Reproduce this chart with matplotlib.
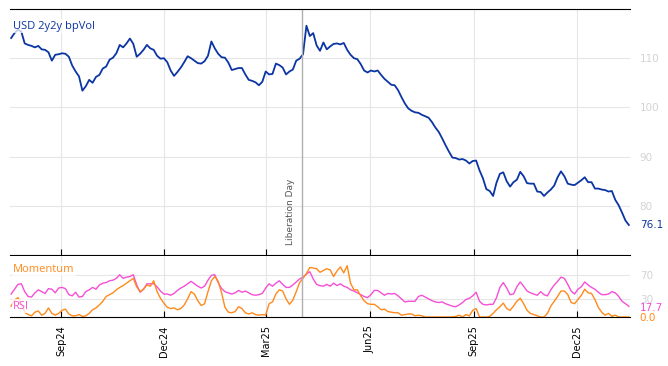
import matplotlib
matplotlib.use("Agg")
import matplotlib.pyplot as plt
import matplotlib.dates as mdates
import pandas as pd

# data: every 3 days from 2024-07-19 to 2026-01-16
start = "2024-07-19"
vol = [114.1, 115.1, 115.8, 115.4, 113.0, 112.7, 112.5, 112.2, 112.5, 111.8,
       111.7, 111.2, 109.5, 110.7, 110.8, 111.0, 110.9, 110.3, 108.5, 107.3,
       106.3, 103.4, 104.3, 105.6, 105.0, 106.2, 106.6, 107.9, 108.3, 109.7,
       110.1, 111.0, 112.7, 112.2, 113.0, 114.0, 112.9, 110.3, 110.9, 111.7,
       112.7, 112.0, 111.7, 110.5, 109.9, 110.0, 109.2, 107.5, 106.4, 107.2,
       108.1, 109.2, 110.4, 110.0, 109.5, 109.0, 108.9, 109.4, 110.5, 113.4,
       112.0, 110.9, 110.2, 110.1, 109.1, 107.6, 107.8, 108.0, 108.0, 106.7,
       105.6, 105.4, 105.1, 104.5, 105.2, 107.3, 106.7, 106.8, 108.9, 108.6,
       108.1, 106.7, 107.3, 107.7, 109.5, 109.9, 110.8, 116.6, 114.5, 115.1,
       112.6, 111.5, 113.2, 111.8, 112.4, 112.9, 113.0, 112.8, 113.1, 111.7,
       110.7, 110.0, 109.8, 108.8, 107.5, 107.1, 107.5, 107.3, 107.5, 106.6,
       105.8, 105.2, 104.6, 104.5, 103.5, 102.1, 100.8, 99.8, 99.3, 99.0,
       98.9, 98.5, 98.2, 97.9, 97.0, 95.9, 95.0, 93.7, 92.3, 91.0,
       89.8, 89.7, 89.4, 89.5, 89.2, 88.6, 89.1, 89.2, 87.2, 85.6,
       83.4, 83.0, 82.0, 84.7, 86.5, 86.8, 85.0, 83.9, 84.8, 85.3,
       86.9, 86.0, 84.6, 84.5, 84.5, 82.9, 82.8, 82.0, 82.7, 83.3,
       84.1, 85.8, 87.0, 86.0, 84.5, 84.3, 84.2, 84.7, 85.2, 85.8,
       84.8, 84.8, 83.5, 83.5, 83.3, 83.2, 82.9, 83.0, 81.2, 80.1,
       78.6, 77.0, 76.1]

rsi = [38, 46, 54, 55, 42, 34, 33, 40, 45, 42,
       39, 47, 46, 40, 48, 49, 47, 37, 35, 41,
       33, 34, 42, 45, 49, 46, 53, 56, 57, 60,
       61, 64, 70, 64, 66, 67, 70, 53, 41, 46,
       55, 55, 55, 50, 43, 38, 38, 36, 39, 44,
       48, 51, 55, 59, 55, 51, 48, 51, 61, 69,
       70, 57, 47, 42, 40, 38, 40, 44, 41, 43,
       40, 37, 36, 37, 39, 48, 55, 51, 56, 60,
       54, 49, 49, 53, 58, 63, 66, 71, 75, 63,
       54, 52, 51, 54, 51, 56, 52, 55, 51, 49,
       45, 43, 40, 37, 34, 32, 37, 44, 44, 40,
       36, 39, 38, 39, 35, 30, 25, 26, 26, 26,
       34, 36, 33, 30, 27, 25, 24, 25, 22, 20,
       18, 17, 20, 24, 29, 31, 35, 41, 26, 21,
       20, 21, 21, 32, 49, 57, 48, 37, 38, 50,
       58, 51, 43, 40, 38, 36, 42, 37, 35, 45,
       53, 59, 66, 64, 54, 43, 38, 46, 50, 58,
       53, 49, 46, 41, 37, 37, 38, 42, 40, 34,
       26, 22, 17.7]

momentum = [18, 28, 32, 22, 8, 4, 2, 8, 10, 3,
            6, 15, 6, 3, 6, 11, 13, 5, 2, 2,
            4, 1, 2, 6, 12, 15, 20, 26, 34, 37,
            40, 45, 49, 52, 56, 60, 64, 50, 42, 46,
            53, 51, 60, 42, 31, 23, 16, 14, 15, 12,
            14, 20, 30, 42, 38, 27, 19, 22, 42, 60,
            67, 59, 40, 16, 8, 7, 9, 17, 14, 7,
            5, 7, 4, 3, 4, 3, 22, 25, 38, 45,
            43, 30, 21, 28, 42, 57, 64, 72, 82, 81,
            80, 74, 77, 80, 78, 67, 76, 83, 73, 85,
            56, 45, 45, 35, 27, 22, 21, 21, 17, 12,
            13, 9, 8, 7, 7, 3, 4, 5, 5, 2,
            3, 2, 0, 0, 0, 0, 0, 0, 0, 0,
            0, 1, 3, 0, 4, 2, 11, 14, 0, 0,
            0, 1, 6, 12, 17, 23, 14, 11, 18, 26,
            31, 22, 11, 6, 4, 2, 0, 0, 6, 18,
            26, 34, 43, 43, 37, 24, 22, 29, 36, 46,
            40, 39, 29, 16, 8, 3, 6, 1, 3, 0,
            0, 0, 0.0]

event_date = "2025-04-02"
event_label = "Liberation Day"

dates = pd.date_range(start, periods=len(vol), freq="3D")

blue = "#0b35a3"
pink = "#f64fd6"
orange = "#ff8a1c"
grid_c = "#e6e6e6"
tick_c = "#d3d3d3"

fig = plt.figure(figsize=(6.68, 3.66), dpi=100)
ax = fig.add_axes([10/668, 1 - 255/366, 620/668, 246/366])
ax2 = fig.add_axes([10/668, 1 - 317/366, 620/668, 61/366], sharex=ax)

# top panel
ax.plot(dates, vol, color=blue, lw=1.3)
ax.set_ylim(70, 120)
ax.set_yticks([80, 90, 100, 110])
ax.yaxis.tick_right()
ax.tick_params(axis="y", length=0, colors=tick_c, labelsize=7.5, pad=7)
ax.grid(True, color=grid_c, lw=0.8)
ax.set_axisbelow(True)
for s in ["left", "right"]:
    ax.spines[s].set_visible(False)
ax.spines["top"].set_color("black")
ax.spines["bottom"].set_color("black")
ax.tick_params(axis="x", direction="in", length=4, labelbottom=False)
ax.axvline(pd.Timestamp(event_date), color="#b0b0b0", lw=1)
ax.text(pd.Timestamp(event_date) - pd.Timedelta(days=6), 72, event_label,
        rotation=90, ha="right", va="bottom", fontsize=6.5, color="#555555")
ax.text(0.005, 0.93, "USD 2y2y bpVol", transform=ax.transAxes, color=blue,
        fontsize=8, family="Open Sans", va="center",
        bbox=dict(facecolor="white", alpha=0.75, edgecolor="none", pad=1))
ax.annotate(f"{vol[-1]:.1f}", xy=(1, vol[-1]), xycoords=("axes fraction", "data"),
            xytext=(7, 0), textcoords="offset points", color=blue,
            fontsize=7.5, va="center")

# bottom panel
ax2.plot(dates, rsi, color=pink, lw=1)
ax2.plot(dates, momentum, color=orange, lw=1)
ax2.set_ylim(0, 101)
ax2.set_yticks([30, 70])
ax2.yaxis.tick_right()
ax2.tick_params(axis="y", length=0, colors=tick_c, labelsize=7.5, pad=7)
ax2.grid(True, color=grid_c, lw=0.8)
ax2.set_axisbelow(True)
for s in ["left", "right", "top"]:
    ax2.spines[s].set_visible(False)
ax2.axvline(pd.Timestamp(event_date), color="#b0b0b0", lw=1)
ax2.text(0.005, 0.78, "Momentum", transform=ax2.transAxes, color=orange,
         fontsize=8, family="Open Sans", va="center",
         bbox=dict(facecolor="white", alpha=0.75, edgecolor="none", pad=1))
ax2.text(0.005, 0.18, "RSI", transform=ax2.transAxes, color=pink,
         fontsize=8, family="Open Sans", va="center",
         bbox=dict(facecolor="white", alpha=0.75, edgecolor="none", pad=1))
ax2.annotate(f"{rsi[-1]:.1f}", xy=(1, rsi[-1]), xycoords=("axes fraction", "data"),
             xytext=(7, -1.5), textcoords="offset points", color=pink,
             fontsize=7.5, va="center")
ax2.annotate(f"{momentum[-1]:.1f}", xy=(1, momentum[-1]), xycoords=("axes fraction", "data"),
             xytext=(7, -0.5), textcoords="offset points", color=orange,
             fontsize=7.5, va="center")

ax2.xaxis.set_major_locator(mdates.MonthLocator(bymonth=[3, 6, 9, 12]))
ax2.xaxis.set_major_formatter(mdates.DateFormatter("%b%y"))
ax2.tick_params(axis="x", direction="in", length=4, labelsize=7, rotation=90, pad=6)
ax2.set_xlim(pd.Timestamp("2024-07-18"), pd.Timestamp("2026-01-17"))

fig.savefig("out.png", dpi=100)
